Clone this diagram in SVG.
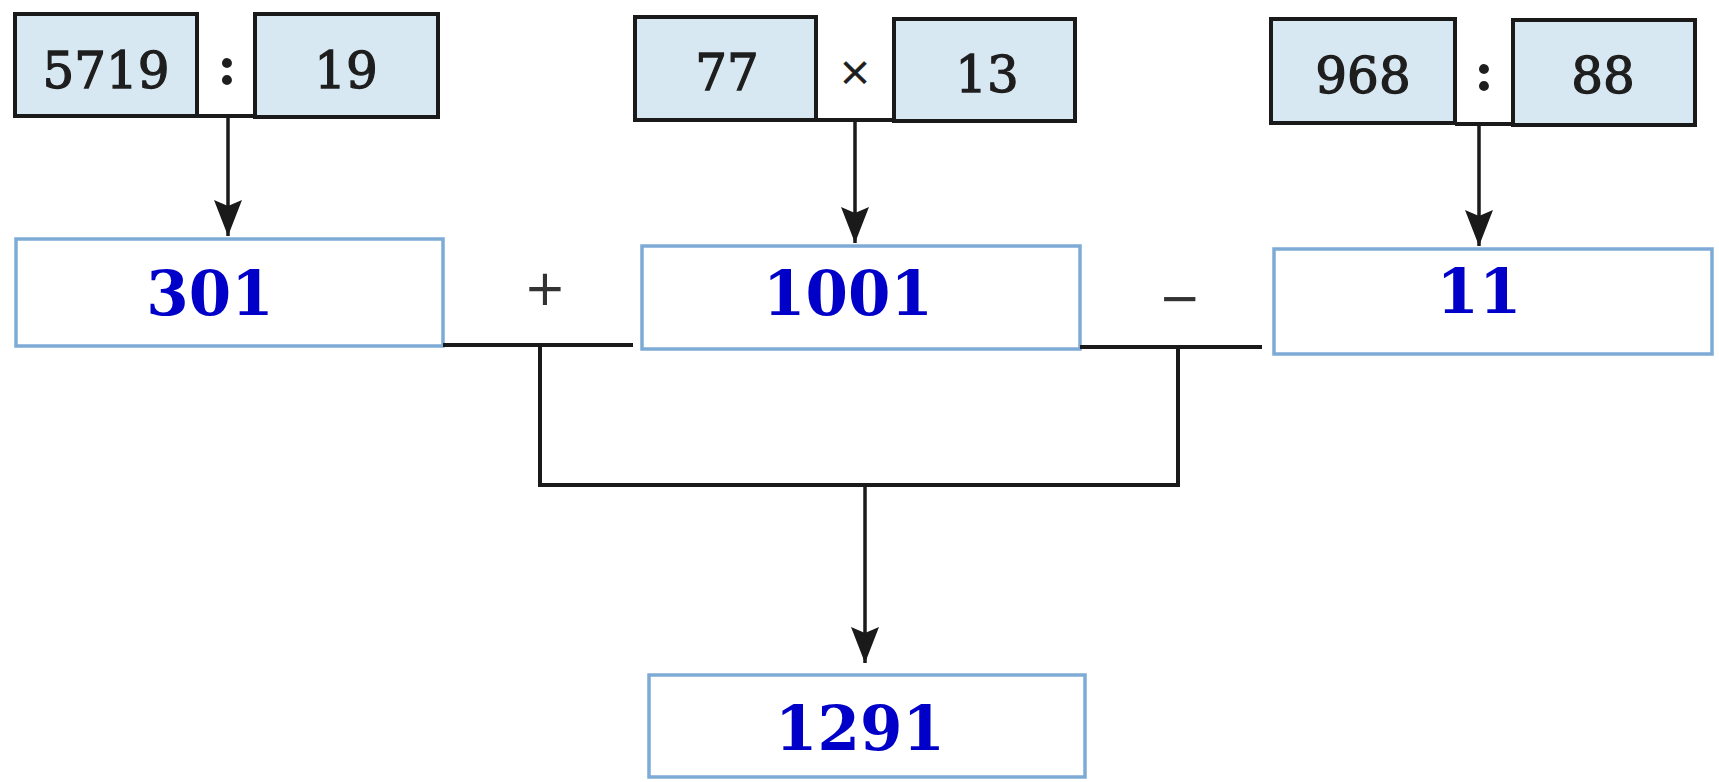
<svg xmlns="http://www.w3.org/2000/svg" width="1719" height="782" viewBox="0 0 1719 782">
<style>
.op{fill:#d8e8f3;stroke:#1a1a1a;stroke-width:4}
.res{fill:#ffffff;stroke:#7eaad6;stroke-width:3.5}
.num{font-family:"DejaVu Serif",serif;font-size:50px;fill:#1e1e1e;stroke:#1e1e1e;stroke-width:1.3;text-anchor:middle}
.colon{font-family:"DejaVu Serif",serif;font-weight:bold;font-size:54px;fill:#1e1e1e;text-anchor:middle}
.ans{font-family:"DejaVu Serif",serif;font-weight:bold;font-size:61px;fill:#0000c8;text-anchor:middle}
.sign{font-family:"DejaVu Sans",sans-serif;font-size:50px;fill:#333;text-anchor:middle}
.wire{fill:none;stroke:#1a1a1a;stroke-width:4}
.arr{fill:none;stroke:#1a1a1a;stroke-width:3.5}
</style>
<defs>
<marker id="ah" markerUnits="userSpaceOnUse" markerWidth="40" markerHeight="32" viewBox="-38 -16 40 32" refX="0" refY="0" orient="auto">
<path d="M0,0 L-36,-14 L-30,0 L-36,14 Z" fill="#1a1a1a"/>
</marker>
</defs>
<rect width="1719" height="782" fill="#ffffff"/>
<g id="expr1">
<rect class="op" x="15" y="14" width="182" height="102"/>
<rect class="op" x="255" y="14" width="183" height="103"/>
<line x1="197" y1="116" x2="255" y2="116" stroke="#1a1a1a" stroke-width="4"/>
<text class="num" x="106" y="88">5719</text>
<text class="colon" x="227" y="84">:</text>
<text class="num" x="346" y="88">19</text>
</g>
<g id="expr2">
<rect class="op" x="635" y="17" width="181" height="103"/>
<rect class="op" x="894" y="19" width="181" height="102"/>
<line x1="816" y1="120" x2="894" y2="120" stroke="#1a1a1a" stroke-width="4"/>
<text class="num" x="727" y="90">77</text>
<text class="num" x="855" y="85" style="font-size:40px;stroke-width:0.6">×</text>
<text class="num" x="987" y="92">13</text>
</g>
<g id="expr3">
<rect class="op" x="1271" y="19" width="184" height="104"/>
<rect class="op" x="1513" y="20" width="182" height="105"/>
<line x1="1455" y1="124" x2="1513" y2="124" stroke="#1a1a1a" stroke-width="4"/>
<text class="num" x="1363" y="93">968</text>
<text class="colon" x="1484" y="90">:</text>
<text class="num" x="1603" y="93">88</text>
</g>
<g id="r301">
<rect class="res" x="16" y="239" width="427" height="107"/>
<text class="ans" x="210" y="315">301</text>
</g>
<g id="r1001">
<rect class="res" x="642" y="246" width="438" height="103"/>
<text class="ans" x="848" y="315">1001</text>
</g>
<g id="r11">
<rect class="res" x="1274" y="249" width="438" height="105"/>
<text class="ans" x="1479" y="313">11</text>
</g>
<g id="r1291">
<rect class="res" x="649" y="675" width="436" height="102"/>
<text class="ans" x="860" y="750">1291</text>
</g>
<g id="signs">
<text class="sign" x="545" y="305">+</text>
<text class="sign" x="1180" y="315">−</text>
</g>
<g id="connectors">
<line class="arr" x1="228" y1="116" x2="228" y2="236" marker-end="url(#ah)"/>
<line class="arr" x1="855" y1="120" x2="855" y2="243" marker-end="url(#ah)"/>
<line class="arr" x1="1479" y1="124" x2="1479" y2="246" marker-end="url(#ah)"/>
<line class="wire" x1="443" y1="345" x2="633" y2="345"/>
<line class="wire" x1="1080" y1="347" x2="1262" y2="347"/>
<polyline class="wire" points="540,345 540,485 1178,485 1178,345"/>
<line class="arr" x1="865" y1="485" x2="865" y2="663" marker-end="url(#ah)"/>
</g>
</svg>
